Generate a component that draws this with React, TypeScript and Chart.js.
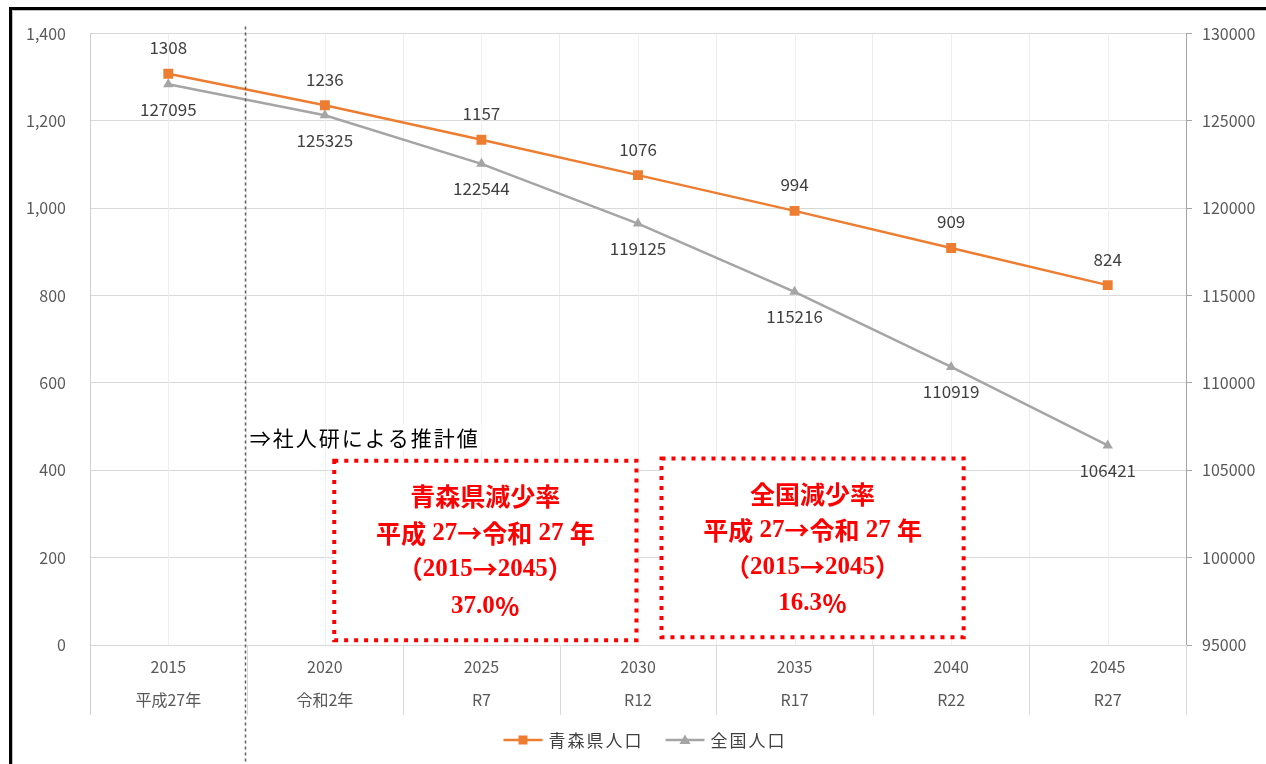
import React, { useEffect, useRef } from 'react';
import { Chart, registerables } from 'chart.js';

Chart.register(...registerables);

// ---- data ----
const years = ['2015', '2020', '2025', '2030', '2035', '2040', '2045'];
const eraLabels = ['平成27年', '令和2年', 'R7', 'R12', 'R17', 'R22', 'R27'];
const aomoriPop = [1308, 1236, 1157, 1076, 994, 909, 824];
const nationalPop = [127095, 125325, 122544, 119125, 115216, 110919, 106421];
const seriesNames = ['青森県人口', '全国人口'];
const leftAxis = { min: 0, max: 1400, step: 200 };
const rightAxis = { min: 95000, max: 130000, step: 5000 };
const noteText = '⇒社人研による推計値';
const boxAomoriLines = ['青森県減少率', '平成 27→令和 27 年', '（2015→2045）', '37.0％'];
const boxNationalLines = ['全国減少率', '平成 27→令和 27 年', '（2015→2045）', '16.3％'];

// annotation anchors in scale units (category index, left-axis value)
const estimateStartIndex = 0.49;
const noteAnchor = { x: 0.52, y: 477 };
const boxAomori = { x0: 1.06, x1: 2.99, y0: 422, y1: 11 };
const boxNational = { x0: 3.15, x1: 5.08, y0: 427, y1: 18 };

const ORANGE = '#ED7D31';
const GRAY = '#A5A5A5';
const FONT = '"Noto Sans CJK JP", "Noto Sans", sans-serif';
const LATIN_FONT = 'bold 25px "Liberation Serif", serif';
const CJK_FONT = 'bold 25px "Noto Sans CJK JP", sans-serif';

function drawRich(ctx: CanvasRenderingContext2D, text: string, cx: number, cy: number) {
  const runs: { t: string; f: string }[] = [];
  for (const ch of Array.from(text)) {
    const f = ch.charCodeAt(0) < 128 ? LATIN_FONT : CJK_FONT;
    if (runs.length && runs[runs.length - 1].f === f) runs[runs.length - 1].t += ch;
    else runs.push({ t: ch, f });
  }
  let total = 0;
  const ws = runs.map((r) => {
    ctx.font = r.f;
    const w = ctx.measureText(r.t).width;
    total += w;
    return w;
  });
  let x = cx - total / 2;
  ctx.textAlign = 'left';
  ctx.textBaseline = 'middle';
  runs.forEach((r, i) => {
    ctx.font = r.f;
    ctx.fillText(r.t, x, cy);
    x += ws[i];
  });
}

const customPlugin = {
  id: 'customDraw',
  beforeDraw(chart: any) {
    const { ctx, width, height } = chart;
    ctx.save();
    ctx.fillStyle = '#ffffff';
    ctx.fillRect(0, 0, width, height);
    // outer frame
    ctx.fillStyle = '#000000';
    ctx.fillRect(9, 7, 3, height - 7);
    ctx.fillRect(9, 7, width - 9, 3);
    ctx.fillStyle = '#c0c0c0';
    ctx.fillRect(12, 10, 1, height - 10);
    ctx.fillRect(12, 10, width - 12, 1);
    ctx.restore();
  },
  beforeDatasetsDraw(chart: any) {
    const { ctx, chartArea } = chart;
    const xs = chart.scales.x;
    ctx.save();
    ctx.lineWidth = 1;
    // center grid lines
    ctx.strokeStyle = '#efefef';
    for (let i = 0; i < years.length; i++) {
      const px = Math.round(xs.getPixelForValue(i)) + 0.5;
      ctx.beginPath();
      ctx.moveTo(px, chartArea.top);
      ctx.lineTo(px, chartArea.bottom);
      ctx.stroke();
    }
    // boundary extensions into label area
    ctx.strokeStyle = '#d9d9d9';
    for (let i = 0; i <= years.length; i++) {
      const px = Math.round(xs.getPixelForValue(i - 0.5)) + 0.5;
      ctx.beginPath();
      ctx.moveTo(px, chartArea.bottom);
      ctx.lineTo(px, chartArea.bottom + 70);
      ctx.stroke();
    }
    // left edge line
    const lx = Math.round(chartArea.left) + 0.5;
    ctx.strokeStyle = '#d0d0d0';
    ctx.beginPath();
    ctx.moveTo(lx, chartArea.top);
    ctx.lineTo(lx, chartArea.bottom + 70);
    ctx.stroke();
    ctx.restore();
  },
  afterDatasetsDraw(chart: any) {
    const { ctx, chartArea, height } = chart;
    const xs = chart.scales.x;
    const ys = chart.scales.y;
    const ys1 = chart.scales.y1;
    ctx.save();
    // data labels
    ctx.font = `17px ${FONT}`;
    ctx.fillStyle = '#404040';
    ctx.textAlign = 'center';
    ctx.textBaseline = 'middle';
    aomoriPop.forEach((v, i) => {
      ctx.fillText(String(v), xs.getPixelForValue(i), ys.getPixelForValue(v) - 26);
    });
    nationalPop.forEach((v, i) => {
      ctx.fillText(String(v), xs.getPixelForValue(i), ys1.getPixelForValue(v) + 25);
    });

    // dashed vertical separator
    const sx = Math.round(xs.getPixelForValue(estimateStartIndex)) + 0.5;
    ctx.strokeStyle = '#606060';
    ctx.lineWidth = 1.5;
    ctx.setLineDash([3, 3]);
    ctx.beginPath();
    ctx.moveTo(sx, chartArea.top - 7);
    ctx.lineTo(sx, height);
    ctx.stroke();
    ctx.setLineDash([]);

    // note text
    ctx.font = `21px ${FONT}`;
    (ctx as any).letterSpacing = '2px';
    const nx = xs.getPixelForValue(noteAnchor.x);
    const ny = ys.getPixelForValue(noteAnchor.y);
    const nw = ctx.measureText(noteText).width;
    ctx.fillStyle = '#ffffff';
    ctx.fillRect(nx - 2, ny - 13, nw + 4, 26);
    ctx.fillStyle = '#000000';
    ctx.textAlign = 'left';
    ctx.fillText(noteText, nx, ny + 1);
    (ctx as any).letterSpacing = '0px';

    // red boxes
    const drawBox = (b: any, lines: string[]) => {
      const x0 = xs.getPixelForValue(b.x0);
      const x1 = xs.getPixelForValue(b.x1);
      const y0 = ys.getPixelForValue(b.y0);
      const y1 = ys.getPixelForValue(b.y1);
      ctx.fillStyle = '#ffffff';
      ctx.fillRect(x0, y0, x1 - x0, y1 - y0);
      ctx.strokeStyle = '#FF0000';
      ctx.lineWidth = 4;
      ctx.setLineDash([4, 6]);
      ctx.strokeRect(x0, y0, x1 - x0, y1 - y0);
      ctx.setLineDash([]);
      ctx.fillStyle = '#FF0000';
      const cx = (x0 + x1) / 2;
      const cy = (y0 + y1) / 2 + 1;
      const gap = 36.5;
      lines.forEach((t, k) => {
        drawRich(ctx, t, cx, cy + (k - (lines.length - 1) / 2) * gap);
      });
    };
    drawBox(boxAomori, boxAomoriLines);
    drawBox(boxNational, boxNationalLines);
    ctx.restore();
  },
  afterDraw(chart: any) {
    const { ctx, chartArea } = chart;
    ctx.save();
    const ly = 740;
    ctx.font = `17px ${FONT}`;
    (ctx as any).letterSpacing = '2px';
    ctx.textBaseline = 'middle';
    ctx.textAlign = 'left';
    const items = [
      { name: seriesNames[0], color: ORANGE, shape: 'rect' },
      { name: seriesNames[1], color: GRAY, shape: 'tri' },
    ];
    const lineLen = 39;
    const widths = items.map((it) => lineLen + 6 + ctx.measureText(it.name).width);
    const spacing = 22;
    const total = widths.reduce((a, b) => a + b, 0) + spacing;
    let x = (chartArea.left + chartArea.right) / 2 + 7 - total / 2;
    items.forEach((it, k) => {
      ctx.strokeStyle = it.color;
      ctx.lineWidth = 2.5;
      ctx.beginPath();
      ctx.moveTo(x, ly);
      ctx.lineTo(x + lineLen, ly);
      ctx.stroke();
      ctx.fillStyle = it.color;
      const mx = x + lineLen / 2;
      if (it.shape === 'rect') {
        ctx.fillRect(mx - 4.5, ly - 4.5, 9, 9);
      } else {
        ctx.beginPath();
        ctx.moveTo(mx, ly - 5.5);
        ctx.lineTo(mx + 5.5, ly + 4);
        ctx.lineTo(mx - 5.5, ly + 4);
        ctx.closePath();
        ctx.fill();
      }
      ctx.fillStyle = '#404040';
      ctx.fillText(it.name, x + lineLen + 6, ly + 1);
      x += widths[k] + spacing;
    });
    ctx.restore();
  },
};

export default function App() {
  const ref = useRef<HTMLCanvasElement | null>(null);
  useEffect(() => {
    if (!ref.current) return;
    const chart = new Chart(ref.current, {
      type: 'line',
      data: {
        labels: years,
        datasets: [
          {
            label: seriesNames[0],
            data: aomoriPop,
            yAxisID: 'y',
            borderColor: ORANGE,
            backgroundColor: ORANGE,
            borderWidth: 2.5,
            pointStyle: 'rect',
            pointRadius: 7,
            pointBorderWidth: 0,
            tension: 0,
          },
          {
            label: seriesNames[1],
            data: nationalPop,
            yAxisID: 'y1',
            borderColor: GRAY,
            backgroundColor: GRAY,
            borderWidth: 2.5,
            pointStyle: 'triangle',
            pointRadius: 6,
            pointBorderWidth: 0,
            tension: 0,
          },
        ],
      },
      options: {
        animation: false,
        responsive: false,
        maintainAspectRatio: false,
        layout: { padding: { top: 32, left: 0, right: 0, bottom: 0 } },
        plugins: { legend: { display: false }, tooltip: { enabled: false } },
        scales: {
          x: {
            type: 'category',
            offset: true,
            grid: { offset: true, color: '#ececec', drawTicks: false },
            border: { display: true, color: '#d9d9d9' },
            ticks: {
              padding: 5,
              color: '#595959',
              font: { family: FONT, size: 16, lineHeight: 2.1 },
              maxRotation: 0,
              autoSkip: false,
              callback: (_v: any, i: number) => [years[i], eraLabels[i]],
            },
            afterFit: (s: any) => {
              s.height = 119;
            },
          },
          y: {
            position: 'left',
            min: leftAxis.min,
            max: leftAxis.max,
            ticks: {
              stepSize: leftAxis.step,
              padding: 24,
              color: '#595959',
              font: { family: FONT, size: 16 },
              callback: (v: any) => Number(v).toLocaleString('en-US'),
            },
            grid: { color: '#d9d9d9', drawTicks: false },
            border: { display: false },
            afterFit: (s: any) => {
              s.width = 90;
            },
          },
          y1: {
            position: 'right',
            min: rightAxis.min,
            max: rightAxis.max,
            ticks: {
              stepSize: rightAxis.step,
              padding: 10,
              color: '#595959',
              font: { family: FONT, size: 16 },
              callback: (v: any) => String(v),
            },
            grid: { drawOnChartArea: false, drawTicks: true, tickLength: 6, color: '#a6a6a6' },
            border: { display: true, color: '#a6a6a6' },
            afterFit: (s: any) => {
              s.width = 80;
            },
          },
        },
      } as any,
      plugins: [customPlugin],
    });
    return () => chart.destroy();
  }, []);
  return (
    <div style={{ position: 'absolute', left: 0, top: 0, width: 1266, height: 764 }}>
      <canvas ref={ref} width={1266} height={764} style={{ display: 'block' }} />
    </div>
  );
}
